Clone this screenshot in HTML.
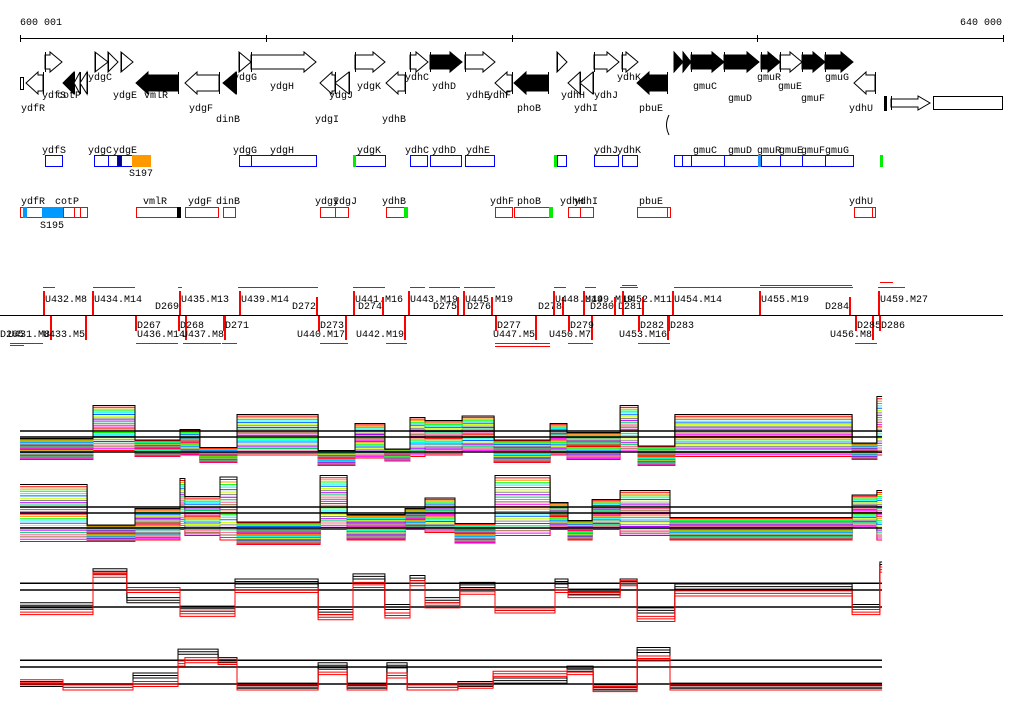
<!DOCTYPE html>
<html><head><meta charset="utf-8">
<style>
html,body{margin:0;padding:0;background:#fff;}
svg{display:block;font-family:"Liberation Mono",monospace;font-size:10px;}
</style></head>
<body>
<svg id="chart" width="1024" height="714" viewBox="0 0 1024 714" xmlns="http://www.w3.org/2000/svg">
<g id="scale">
<text x="20" y="25">600 001</text>
<text x="960" y="25">640 000</text>
<line x1="20" y1="38.5" x2="1003" y2="38.5" stroke="#000"/>
</g>
<g id="genes"></g>
<g id="boxes"></g>
<g id="segs">
<line x1="0" y1="315.5" x2="1003" y2="315.5" stroke="#000"/>
</g>
<g id="tracks"></g>
</svg>
<script>
// ---------- chart data ----------
const t1Breaks=[600.00,602.97,604.68,606.51,607.32,608.83,612.13,613.63,614.85,615.87,616.48,617.99,619.29,621.57,622.26,624.42,625.15,626.65,633.86,634.87,635.08];
const t1Top=[0.9,3.1,0.8,1.5,0.3,2.5,0.1,1.9,0.2,2.3,2.1,2.4,0.8,1.9,1.3,3.1,0.4,2.5,0.6,3.7];
const t1Bottom=[-0.5,0.1,-0.3,-0.2,-0.7,-0.2,-0.9,-0.4,-0.6,-0.3,-0.2,0,-0.7,-0.2,-0.5,0,-0.9,-0.3,-0.5,-0.2];
const t2Breaks=[600.00,602.73,604.68,606.51,606.71,608.14,608.83,612.21,613.31,615.67,616.48,617.70,619.33,621.57,622.30,623.28,624.42,626.45,633.86,634.87,635.08];
const t2Top=[2.9,0.2,1.3,3.3,2.1,3.4,0.4,3.5,0.9,1.3,2.0,0.3,3.5,1.7,0.5,1.9,2.5,0.7,2.2,2.5];
const t2Bottom=[-0.9,-0.9,-0.8,-0.1,-0.5,-0.8,-1.1,-0.1,-0.8,-0.1,-0.3,-1.0,-0.5,-0.1,-0.8,-0.1,-0.5,-0.8,0,-0.8];
const t3Breaks=[600.00,602.97,604.35,606.51,608.75,612.13,613.55,614.85,615.87,616.48,617.90,619.33,621.77,622.30,624.42,625.11,626.65,633.86,634.99,635.08];
const t3Black=[0.1,2.1,0.4,-0.1,1.5,-0.3,1.8,0,1.7,0.4,1.3,-0.2,1.5,0.9,1.5,-0.2,1.2,0,2.5];
const t3Red=[-0.3,1.9,1.0,-0.4,1.0,-0.6,1.3,-0.5,1.4,0.1,0.9,-0.2,1.0,0.7,1.4,-0.7,0.8,-0.3,2.2];
const t4Breaks=[600.00,601.75,604.60,606.43,606.71,608.06,608.83,612.13,613.31,614.93,615.75,617.82,619.25,622.26,623.32,625.11,626.45,635.08];
const t4Black=[0,-0.2,0.5,1.9,1.9,1.4,-0.1,1.1,-0.1,1.1,-0.2,0,0.2,0.9,-0.2,2.0,-0.1];
const t4Red=[0.1,-0.2,0,1.2,1.4,1.3,-0.2,0.7,-0.2,0.5,-0.2,-0.1,0.6,0.7,-0.3,1.5,-0.2];
const refLevels=[0,1,1.4];
const tickKb=[600,610,620,630,640];

// ---------- helpers ----------
const NS='http://www.w3.org/2000/svg';
function mk(tag,attrs,parent){const e=document.createElementNS(NS,tag);for(const k in attrs)e.setAttribute(k,attrs[k]);parent.appendChild(e);return e;}
function xScale(kb){return 20+(kb-600)/40*983;}
const G=document.getElementById('genes'),B=document.getElementById('boxes'),S=document.getElementById('segs'),T=document.getElementById('tracks'),SC=document.getElementById('scale');

tickKb.forEach(k=>{const x=Math.round(xScale(k))+0.5;
 const t=mk('line',{x1:x,x2:x,y1:35,y2:42,stroke:'#000'},SC);
 
 });

// ---------- gene arrows ----------
const fwdGenes=[[45,62,0],[95,108,0],[108,118,0],[121,133,0],[239,251,0],[251,316,0],[355,385,0],[410,428,0],[430,462,1],[465,495,0],[557,567,0],[594,619,0],[622,638,0],[674,683,1],[683,691,1],[691,724,1],[724,759,1],[761,780,1],[780,802,0],[802,825,1],[825,853,1]];
const revGenes=[[26,43,0],[63,74,1],[74,80,0],[80,87,0],[136,178,1],[185,219,0],[223,236,1],[320,335,0],[335,349,0],[386,405,0],[495,512,0],[514,548,1],[568,580,0],[580,593,0],[637,667,1],[854,875,0]];
function arrow(x1,x2,dir,fill,yt,yb){
 const w=x2-x1,cy=(yt+yb)/2,h=Math.min(12,w),st=yt+3,sb=yb-3;let pts;
 if(dir>0){pts=w<=14?`${x1},${yt} ${x2},${cy} ${x1},${yb}`:`${x1},${st} ${x2-h},${st} ${x2-h},${yt} ${x2},${cy} ${x2-h},${yb} ${x2-h},${sb} ${x1},${sb}`;}
 else{pts=w<=14?`${x2},${yt} ${x1},${cy} ${x2},${yb}`:`${x2},${st} ${x1+h},${st} ${x1+h},${yt} ${x1},${cy} ${x1+h},${yb} ${x1+h},${sb} ${x2},${sb}`;}
 const p=mk('polygon',{points:pts,fill:fill?'#000':'#fff',stroke:'#000','stroke-width':1},G);
 
 
 const tx=dir>0?x1+0.5:x2+0.5;
 const l=mk('line',{x1:tx,x2:tx,y1:yt,y2:yb,stroke:'#000'},G);
 
 
}
fwdGenes.forEach(g=>arrow(g[0],g[1],1,g[2],52,72));
revGenes.forEach(g=>arrow(g[0],g[1],-1,g[2],72,94));
{const r=mk('rect',{x:20.5,y:77.5,width:3,height:12,fill:'#fff',stroke:'#000'},G);
 
 
 arrow(891,930,1,0,96,110);
 const r2=mk('rect',{x:933.5,y:96.5,width:69,height:13,fill:'#fff',stroke:'#000'},G);
 
 
 const r3=mk('rect',{x:884,y:96,width:3,height:15,fill:'#000'},G);
 
 
 const c=mk('path',{d:'M669 115 Q664 125 669 135',fill:'none',stroke:'#000'},G);
 
 }
const geneLabels=[['ydfR',21,111],['ydfS',42,98],['cotP',57,98],['ydgC',88,80],['ydgE',113,98],['vmlR',144,98],['ydgF',189,111],['dinB',216,122],['ydgG',233,80],['ydgH',270,89],['ydgJ',329,98],['ydgI',315,122],['ydgK',357,89],['ydhB',382,122],['ydhC',405,80],['ydhD',432,89],['ydhE',466,98],['ydhF',487,98],['phoB',517,111],['ydhH',561,98],['ydhI',574,111],['ydhJ',594,98],['ydhK',617,80],['pbuE',639,111],['gmuC',693,89],['gmuD',728,101],['gmuR',757,80],['gmuE',778,89],['gmuF',801,101],['gmuG',825,80],['ydhU',849,111]];
geneLabels.forEach(g=>{const t=mk('text',{x:g[1],y:g[2]},G);t.textContent=g[0];
 
 });

// ---------- feature boxes ----------
const blueBoxes=[[45,62,'none'],[94,108,'none'],[108,117,'none'],[117,121,'#00008b'],[121,132,'none'],[132,150,'#ff9900'],[239,251,'none'],[251,316,'none'],[355,385,'none'],[410,427,'none'],[430,461,'none'],[465,494,'none'],[557,566,'none'],[594,618,'none'],[622,637,'none'],[674,682,'none'],[682,691,'none'],[691,724,'none'],[724,758,'none'],[761,780,'none'],[780,802,'none'],[802,825,'none'],[825,853,'none']];
blueBoxes.forEach(b=>{const r=mk('rect',{x:b[0]+0.5,y:155.5,width:b[1]-b[0],height:11,fill:b[2]==='none'?'#fff':b[2],stroke:b[2]==='#ff9900'?'#ff9900':'#0000ff'},B);
 
 });
[[353,155,'#00ee00'],[554,155,'#00ee00'],[758,155,'#1e90ff'],[880,155,'#00ee00']].forEach(m=>{const r=mk('rect',{x:m[0],y:m[1],width:3,height:12,fill:m[2]},B);
 
 });
const redBoxes=[[20,23,'none'],[26,42,'none'],[42,63,'#0099ff'],[63,74,'none'],[74,80,'none'],[80,87,'none'],[136,177,'none'],[185,218,'none'],[223,235,'none'],[320,335,'none'],[335,348,'none'],[386,404,'none'],[495,512,'none'],[514,549,'none'],[568,580,'none'],[580,593,'none'],[637,667,'none'],[667,670,'none'],[854,872,'none'],[872,875,'none']];
redBoxes.forEach(b=>{const r=mk('rect',{x:b[0]+0.5,y:207.5,width:b[1]-b[0],height:10,fill:b[2]==='none'?'#fff':b[2],stroke:b[2]==='none'?'#ff0000':'#0099ff'},B);
 
 });
[[23,207,'#0099ff'],[177,207,'#000'],[404,207,'#00ee00'],[549,207,'#00ee00']].forEach(m=>{const r=mk('rect',{x:m[0],y:m[1],width:4,height:11,fill:m[2]},B);
 
 });
const boxLabels=[['ydfS',42,153],['ydgC',88,153],['ydgE',113,153],['S197',129,176],['ydgG',233,153],['ydgH',270,153],['ydgK',357,153],['ydhC',405,153],['ydhD',432,153],['ydhE',466,153],['ydhJ',594,153],['ydhK',617,153],['gmuC',693,153],['gmuD',728,153],['gmuR',757,153],['gmuE',779,153],['gmuF',801,153],['gmuG',825,153],
['ydfR',21,204],['cotP',55,204],['S195',40,228],['vmlR',143,204],['ydgF',188,204],['dinB',216,204],['ydgI',315,204],['ydgJ',333,204],['ydhB',382,204],['ydhF',490,204],['phoB',517,204],['ydhH',560,204],['ydhI',574,204],['pbuE',639,204],['ydhU',849,204]];
boxLabels.forEach(g=>{const t=mk('text',{x:g[1],y:g[2]},B);t.textContent=g[0];
 
 });

// ---------- segments ----------
const upLabels=[['U432.M8',45,302],['U434.M14',94,302],['D269',155,309],['U435.M13',181,302],['U439.M14',241,302],['D272',292,309],['U441.M16',355,302],['D274',358,309],['U443.M19',410,302],['D275',433,309],['U445.M19',465,302],['D276',467,309],['D278',538,309],['U448.M19',555,302],['U449.M19',585,302],['D280',590,309],['D281',618,309],['U452.M11',624,302],['U454.M14',674,302],['U455.M19',761,302],['D284',825,309],['U459.M27',880,302]];
const lowLabels=[['D265',0,337],['U431.M8',8,337],['U433.M5',43,337],['D267',137,328],['U436.M14',137,337],['D268',180,328],['U437.M8',182,337],['D271',225,328],['D273',320,328],['U440.M17',297,337],['U442.M19',356,337],['D277',497,328],['U447.M5',493,337],['U450.M7',549,337],['D279',570,328],['U453.M16',619,337],['D282',640,328],['D283',670,328],['U456.M8',830,337],['D285',857,328],['D286',881,328]];
upLabels.forEach(g=>{const t=mk('text',{x:g[1],y:g[2]},S);t.textContent=g[0];
 
 
 const isD=g[0][0]==='D';const rx=isD?g[1]+g[0].length*6:g[1]-2;
 const r=mk('rect',{x:rx,y:isD?297:291,width:2,height:isD?18:24,fill:'#ff0000'},S);
 
 });
lowLabels.forEach(g=>{const t=mk('text',{x:g[1],y:g[2]},S);t.textContent=g[0];
 
 
 const isD=g[0][0]==='D';const rx=isD?g[1]-2:g[1]+g[0].length*6;
 const r=mk('rect',{x:rx,y:316,width:2,height:isD?15:24,fill:'#ff0000'},S);
 
 });
const upBars=[[43,55,287],[93,135,287],[178,182,287],[238,318,287],[353,385,287],[410,425,287],[429,460,287],[464,495,287],[554,566,287],[585,596,287],[620,638,287],[622,637,285],[674,853,287],[760,852,285],[880,893,282],[878,905,287]];
const lowBars=[[10,43,343],[10,24,345],[136,178,343],[183,221,343],[222,237,343],[320,348,343],[386,407,343],[495,550,343],[495,550,346],[568,593,343],[638,670,343],[855,877,343]];
upBars.concat(lowBars).forEach(b=>{const l=mk('line',{x1:b[0],x2:b[1],y1:b[2]+0.5,y2:b[2]+0.5,stroke:'#ff0000'},S);
 
 });

// ---------- tracks ----------
const palette=['#ff00ff','#ff0000','#ff9900','#00ff00','#00ffff','#0066ff','#ccff00','#888888','#aa00ff','#00cc66','#ff6699','#996633'];
function stepPath(breaks,vals,base,scale){
 let d='';for(let i=0;i<vals.length;i++){const x1=xScale(breaks[i]),x2=xScale(breaks[i+1]),y=(base-vals[i]*scale).toFixed(1);
  d+=(i===0?'M':'L')+x1.toFixed(1)+' '+y+' L'+x2.toFixed(1)+' '+y+' ';}
 return d;}
function refLines(base,scale){refLevels.forEach(v=>{const y=base-v*scale;
 const l=mk('line',{x1:20,x2:882,y1:y,y2:y,stroke:'#000','stroke-width':1.5},T);
 
 });}
function band(breaks,top,bot,base,scale,name){
 const N=26;
 for(let k=N-1;k>=0;k--){const f=k/(N-1);const vals=top.map((t,i)=>t+(bot[i]-t)*f);
  const p=mk('path',{d:stepPath(breaks,vals,base,scale),fill:'none',stroke:k===0?'#000':palette[k%palette.length],'stroke-width':1},T);
  
  }
 refLines(base,scale);}
band(t1Breaks,t1Top,t1Bottom,452,15,'track1');
band(t2Breaks,t2Top,t2Bottom,528,15,'track2');
function pair(breaks,blk,red,base,scale,name){
 refLines(base,scale);
 const offs=[0,-0.15,0.15];
 offs.forEach(o=>{const p=mk('path',{d:stepPath(breaks,blk.map(v=>v+o),base,scale),fill:'none',stroke:'#000','stroke-width':1},T);
  
  });
 offs.forEach(o=>{const p=mk('path',{d:stepPath(breaks,red.map(v=>v+o),base,scale),fill:'none',stroke:'#ff0000','stroke-width':1},T);
  
  });}
pair(t3Breaks,t3Black,t3Red,607,17,'track3');
pair(t4Breaks,t4Black,t4Red,684,17,'track4');
</script>
</body></html>
